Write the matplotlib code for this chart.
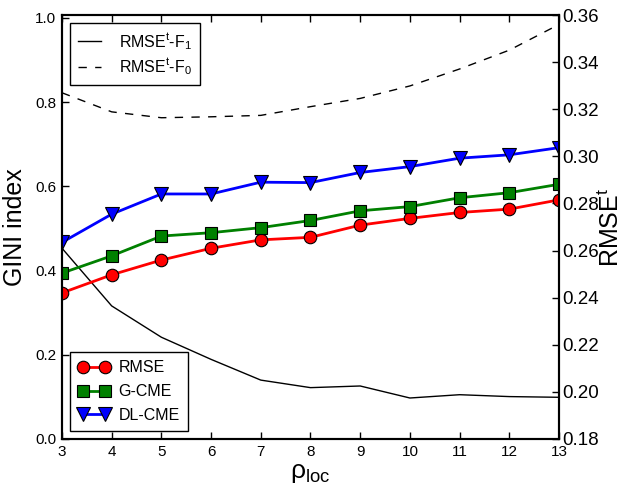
import matplotlib
matplotlib.use("Agg")
import matplotlib.pyplot as plt

rho = [3, 4, 5, 6, 7, 8, 9, 10, 11, 12, 13]
gini_rmse = [0.347, 0.390, 0.425, 0.453, 0.473, 0.479, 0.508, 0.524, 0.538, 0.546, 0.568]
gini_gcme = [0.394, 0.435, 0.482, 0.490, 0.502, 0.519, 0.542, 0.552, 0.573, 0.585, 0.605]
gini_dlcme = [0.467, 0.534, 0.582, 0.582, 0.610, 0.609, 0.633, 0.647, 0.667, 0.675, 0.692]
rmse_f1 = [0.261, 0.2365, 0.2232, 0.2138, 0.2050, 0.2018, 0.2025, 0.1974, 0.1988, 0.1980, 0.1977]
rmse_f0 = [0.327, 0.3189, 0.3164, 0.3168, 0.3174, 0.3211, 0.3246, 0.3299, 0.3371, 0.3451, 0.356]
right_ticks = [0.18, 0.20, 0.22, 0.24, 0.26, 0.28, 0.30, 0.32, 0.34, 0.36]
left_ticks = [0.0, 0.2, 0.4, 0.6, 0.8, 1.0]

plt.rcParams['font.family'] = ['Liberation Sans', 'DejaVu Sans']
plt.rcParams['mathtext.fontset'] = 'custom'
plt.rcParams['mathtext.rm'] = 'Liberation Sans'
plt.rcParams['mathtext.it'] = 'Liberation Sans'

fig = plt.figure(figsize=(6.26, 4.87), dpi=100)
ax = fig.add_axes([0.099, 0.0986, 0.794, 0.8705])
ax2 = ax.twinx()

l1, = ax2.plot(rho, rmse_f1, color='black', lw=1.0, label=r'RMSE$^{\rm t}$-F$_{\rm 1}$')
l0, = ax2.plot(rho, rmse_f0, color='black', lw=1.0, ls=(0, (6, 6)), label=r'RMSE$^{\rm t}$-F$_{\rm 0}$')
ax2.set_ylim(0.18, 0.36)
ax2.set_yticks(right_ticks)
ax2.set_yticklabels(['%.2f' % t for t in right_ticks], fontsize=13.5)
ax2.set_ylabel(r'RMSE$^{\rm t}$', fontsize=18, labelpad=0)
ax2.tick_params(direction='in', length=5, width=1, pad=2)

ax.set_zorder(ax2.get_zorder() + 1)
ax.patch.set_visible(False)

lr, = ax.plot(rho, gini_rmse, color='red', lw=2, marker='o', ms=9, mfc='red', mec='black', mew=0.8, label='RMSE')
lg, = ax.plot(rho, gini_gcme, color='green', lw=2, marker='s', ms=9, mfc='green', mec='black', mew=0.8, label='G-CME')
lb, = ax.plot(rho, gini_dlcme, color='blue', lw=2, marker='v', ms=10, mfc='blue', mec='black', mew=0.8, label='DL-CME')

ax.set_xlim(3, 13)
ax.set_ylim(0, 1.007)
ax.set_xticks(rho)
ax.set_xticklabels([str(r) for r in rho], fontsize=11)
ax.set_yticks(left_ticks)
ax.set_yticklabels(['%.1f' % t for t in left_ticks], fontsize=11)
ax.tick_params(direction='in', length=5, width=1, top=True, pad=4)
ax.set_xlabel(r'$\rho_{\rm loc}$', fontsize=19, labelpad=2)
ax.set_ylabel('GINI index', fontsize=18, labelpad=6)
for a in (ax, ax2):
    for s in a.spines.values():
        s.set_linewidth(1.5)

common = dict(fontsize=11.5, fancybox=False, edgecolor='black', framealpha=1,
              borderpad=0.5)
leg1 = ax.legend(handles=[l1, l0], loc='upper left', handlelength=1.45,
                 handletextpad=1.1, labelspacing=0.3, **common)
leg1.get_frame().set_linewidth(1.0)
ax.add_artist(leg1)
leg2 = ax.legend(handles=[lr, lg, lb], loc='lower left', numpoints=2,
                 handlelength=2.0, handletextpad=0.55, labelspacing=0.55, **common)
leg2.get_frame().set_linewidth(1.0)

fig.savefig('out.png', dpi=100)
